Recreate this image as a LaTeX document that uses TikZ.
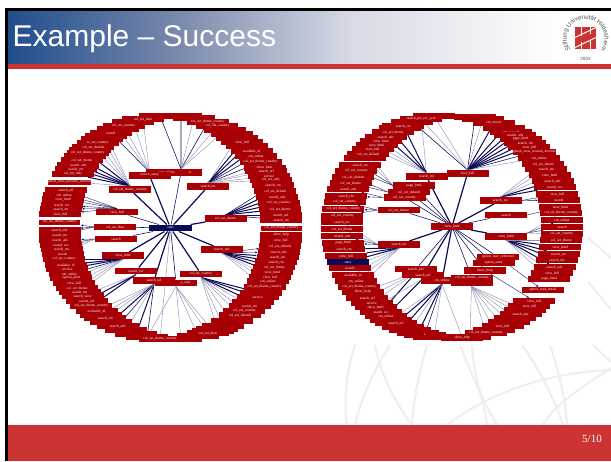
\documentclass[tikz,border=0pt]{standalone}
\usepackage{fontspec}
\setmainfont{Liberation Serif}
\newfontfamily\hdrfont{Liberation Sans}
\usetikzlibrary{backgrounds,arrows.meta,decorations.text}
\definecolor{ringred}{HTML}{A80004}
\definecolor{navy}{HTML}{0A0A55}
\definecolor{barred}{HTML}{CC3333}
\definecolor{wmark}{HTML}{EEEEEE}
\definecolor{thinline}{HTML}{8A8CB0}
\catcode`\_=12
\tikzset{
  ringbox/.style={fill=ringred,text=white,inner sep=0pt,minimum width=42pt,minimum height=6pt,
    font=\fontsize{3.6}{4}\selectfont},
  rowline/.style={draw=white,line width=.5pt},
  hubbox/.style={ringbox,minimum height=6.6pt},
  rootbox/.style={hubbox,fill=navy},
  boldsp/.style={draw=navy,line width=1pt},
  midsp/.style={draw=navy,line width=.55pt},
  thinsp/.style={draw=thinline,line width=.4pt},
  tipsp/.style={draw=navy,line width=.35pt,-{Stealth[length=2.4pt,width=2pt]}},
  trunk/.style={draw=navy,line width=1.2pt},
  wline/.style={draw=wmark,line width=2pt},
}
% optional style, name, sign, cx, cy, a, b, rows
\newcommand\Ring[8][]{\foreach \y/\t in {#8}{%
  \node[ringbox,#1] (#2\y) at ({#4 #3 #6*sqrt(1-((\y-#5)/#7)^2)},\y) {\t};}}
\newcommand\LL[2][]{\Ring[#1]{ll}{-}{170.5}{227.5}{111}{112}{#2}}
\newcommand\LR[2][]{\Ring[#1]{lr}{+}{170.5}{227.5}{111}{112}{#2}}
\newcommand\RL[2][]{\Ring[#1]{rl}{-}{452}{226.5}{110}{112}{#2}}
\newcommand\RR[2][]{\Ring[#1]{rr}{+}{452}{226.5}{110}{112}{#2}}
% style, source, row prefix, rows
\newcommand\Fan[4]{\foreach \y in {#4}{\draw[#1] (#2) -- (#3\y);}}
\begin{document}
\begin{tikzpicture}[x=1pt,y=-1pt]
\useasboundingbox (0,0) rectangle (611,461);

% ---------- left ring
\LL{116/,122/,129/,136/,139/,150/,156/,315/,322/,330/,334/,337/}
\LR{116/,118/,130/,134/,138/,146/,293/,302/,321/,326/,329/,331/,336/,339/}
\LL{119/col_set_then,126/col_set_country,133/search,143/cs_set_country,147/col_set_default,153/col_set_theme_country,160/col_set_theme,165/search_adv,169/search_rtn,174/col_set_only,
190/search_url,195/cm_online,199/view_html,205/search_rec,209/search_rtn,214/view_full,
230/search_adv,235/search_rtn,240/search_adv,245/search_rec,249/search_rtn,254/search,259/col_set_country,265/available_nl,269/service,274/cm_online,278/option_print,283/view_full,288/col_set_theme,292/search_rtn,296/search_view,301/search_url,306/col_set_theme_country,311/available_nl,318/search_rtn,326/search_adv,339/col_set_theme_country}
\LR{122/col_set_theme_country,126/col_file_country,142/view_full,151/available_nl,156/cm_online,162/col_set_theme_country,168/show_help,171/search_url,176/service,180/col_set_only,185/search_rtn,191/col_set_default,197/search_adv,203/col_set_country,209/col_set_theme,215/search_url,220/search_rtn,
235/show_help,240/view_full,246/col_set_default,252/search_adv,257/search_rtn,262/search_rtn,267/col_set_theme,272/view_html,277/view_full,281/cm_online,287/col_set_theme_country,297/service,306/search_rtn,311/col_set_country,315/col_set_default,333/col_set_then}
\LL[rowline]{182/option_view_preview_favorite,222/col_set_theme_country}
\LR[rowline]{228/col_set_theme_country}

% ---------- left tree hubs
\node[hubbox] (hTC) at (130,189.5) {col_set_theme_country};
\node[hubbox] (hVf) at (117,212) {view_full};
\node[hubbox] (hN) at (181,172.5) {\hspace*{18pt}n};
\node[hubbox] (hOn) at (167,172.5) {cm_online};
\node[hubbox] (hSa) at (149.5,175.5) {source_away};
\node[hubbox] (hRt) at (208,186.5) {search_rtn};
\node[hubbox] (hTh) at (225.5,218.5) {col_set_theme};
\node[hubbox] (hTn) at (115,227) {col_set_then};
\node[hubbox] (hSe) at (116,239) {search};
\node[hubbox] (hVh) at (123,255.5) {view_html};
\node[hubbox] (hRc) at (136,271) {search_rec};
\node[hubbox] (hAd) at (222,249.5) {search_adv};
\node[hubbox] (hCo) at (201,274) {col_set_country};
\node[hubbox] (hOnly) at (176,283) {\hspace*{18pt}_s_only};
\node[hubbox] (hUr) at (154,280.5) {search_url};
\node[rootbox,minimum width=43pt] (lroot) at (170.5,228) {start};

% ---------- right ring
\RL{116/,122/,128/,158/,320/,327/,330/,333/,337/}
\RR{117/,119/,128/,310/,318/,322/,330/,337/}
\RL{119/search_pst_rec_year,126/search_rec,132/col_set_theme,137/search_adv,141/view_html,145/view_html,149/view_full,154/col_set_default,
165/search_rtn,171/col_set_country,177/col_set_default,183/col_set_theme,189/search_adv,196/search_rtn,202/col_set_country,209/col_set_theme_country,216/col_set_country,222/search_rec,229/col_set_theme,236/search_adv,243/page_html,249/search_rtn,256/view_full,
268/search,275/available_nl,281/cm_online,287/col_set_theme_country,292/show_help,298/search_url,303/service,307/show_html,312/search_rec,316/cm_online,323/search_url,335/s}
\RR{123/cm_mover,132/cm_n_n_rtl,135/search_adv,139/page_html,143/search_rtn,147/view_full,152/option_view_session_favorite,158/cm_online,164/col_set_theme,169/search_rtn,175/view_html,181/search_adv,187/search_rec,194/view_full,200/search,207/view_html,213/col_set_theme_country,220/cm_online,227/search,234/col_set_country,240/col_set_theme,247/view_html,254/search_rec,260/search_rtn,267/search_adv,273/view_full,279/page_html,
290/option_read_email,301/view_full,306/view_full,314/search_adv,326/view_full,333/col_set_theme_country,338/show_help}
\RL[rootbox,minimum height=6pt,minimum width=42pt]{262/start}

% ---------- right tree hubs
\node[hubbox] (rRt) at (426.5,176.5) {search_rtn};
\node[hubbox] (rVf) at (467.5,173.5) {view_full};
\node[hubbox] (rPg) at (414,185.5) {page_html};
\node[hubbox] (rDf) at (409,192) {col_set_default};
\node[hubbox] (rCo) at (404.5,197.5) {col_set_country};
\node[hubbox] (rTh) at (398.5,210) {col_set_theme};
\node[hubbox] (rRc) at (500.5,200.5) {search_rec};
\node[hubbox] (rSe) at (506,215) {search};
\node[hubbox] (rVh) at (506,236.5) {view_html};
\node[hubbox] (rRl) at (399,244.5) {search_rtn};
\node[hubbox] (rAd) at (416,269) {search_adv};
\node[hubbox] (rUr) at (423,275) {search_url};
\node[hubbox] (rOn) at (442,280.5) {cm_online};
\node[hubbox] (rFa) at (471.5,283) {};
\node[hubbox] (rOu) at (498,257) {option_user_reference};
\node[hubbox] (rOs) at (493.5,263) {option_send};
\node[hubbox] (rSh) at (485,270.5) {show_help};
\node[hubbox] (rTC) at (472,278) {col_set_theme_country};
\node[hubbox] (rroot) at (452,226.5) {view_html};

% ---------- everything behind the boxes
\begin{scope}[on background layer]
  % watermark, behind the white panel of the figure
  \draw[wline] (355,345) .. controls (345,375) and (344,405) .. (347,425);
  \draw[wline] (375,345) .. controls (379,370) and (395,403) .. (412,425);
  \draw[wline] (390,345) .. controls (377,365) and (362,395) .. (355,425);
  \draw[wline] (427,345) .. controls (420,370) and (414,395) .. (412,425);
  \draw[wline] (460,345) .. controls (470,370) and (482,400) .. (497,425);
  \draw[wline] (472,345) .. controls (473,375) and (484,400) .. (487,425);
  \draw[wline] (447,425) .. controls (490,392) and (550,372) .. (611,370);
  \draw[wline] (522,345) .. controls (537,365) and (555,400) .. (563,425);
  \draw[wline] (550,345) .. controls (558,370) and (566,400) .. (567,425);
  \draw[wline] (593,345) -- (611,362);
  \draw[wline] (611,368) .. controls (585,385) and (553,405) .. (543,425);
  \draw[wline] (575,225) .. controls (590,240) and (600,248) .. (611,258);
  \draw[wline] (578,270) .. controls (590,285) and (600,295) .. (611,310);
  \fill[white] (8,69) rectangle (588,345);

  % left tree: trunk lines
  \foreach \h in {hTC,hSa,hRt,hTh,hVh,hRc,hAd,hCo,hUr}{\draw[trunk] (lroot) -- (\h);}
  \foreach \h in {hVf,hN,hTn,hSe,hOnly}{\draw[midsp] (lroot) -- (\h);}
  \draw[thinsp] (lroot) -- (ll339);
  % left tree: fans
  \Fan{boldsp}{hTC.north}{ll}{174,169,165,160,153}
  \Fan{thinsp}{hTC.north}{ll}{182,147,143,139,136}
  \Fan{midsp}{hSa.north}{ll}{133}
  \Fan{thinsp}{hSa.north}{ll}{129,126,122,119}
  \Fan{midsp}{hN.north}{lr}{116,122}
  \Fan{midsp}{hN.north}{ll}{116}
  \Fan{thinsp}{hN.north}{lr}{118,126,130}
  \Fan{boldsp}{hRt.north}{lr}{142,146,151}
  \Fan{midsp}{hRt.north}{lr}{156,162}
  \Fan{thinsp}{hRt.north}{lr}{138,168,171,176,180}
  \Fan{boldsp}{hTh.north}{lr}{191,197,203,209,215}
  \Fan{midsp}{hTh.north}{lr}{185,220}
  \Fan{tipsp}{hTn.west}{ll}{222,230,235}
  \Fan{tipsp}{hSe.west}{ll}{240,245}
  \Fan{thinsp}{hSe.west}{ll}{249,254}
  \Fan{tipsp}{hVf.north}{ll}{190,195,199,205,209,214}
  \Fan{boldsp}{hVh.south}{ll}{265,269}
  \Fan{midsp}{hVh.south}{ll}{259,274}
  \Fan{thinsp}{hVh.south}{ll}{278,283,288,292}
  \Fan{boldsp}{hRc.south}{ll}{301,306}
  \Fan{thinsp}{hRc.south}{ll}{296}
  \Fan{boldsp}{hUr.south}{ll}{322,334}
  \Fan{midsp}{hUr.south}{ll}{326,337}
  \Fan{thinsp}{hUr.south}{ll}{311,315,318,330}
  \Fan{tipsp}{hAd.south}{lr}{246,252}
  \Fan{boldsp}{hAd.south}{lr}{257,262,267,272}
  \Fan{thinsp}{hAd.south}{lr}{277,281,287}
  \Fan{boldsp}{hCo.south}{lr}{293,297,302}
  \Fan{thinsp}{hCo.south}{lr}{306,311,315,321,326,329}
  \Fan{thinsp}{hOnly.south}{lr}{331,333,336,339}
  \Fan{thinsp}{hOnly.south}{ll}{337}

  % right tree: trunk lines
  \foreach \h in {rRt,rVf,rRc,rVh,rRl,rOn,rUr}{\draw[trunk] (rroot) -- (\h);}
  \foreach \h in {rPg,rDf,rCo,rTh,rSe,rAd,rOu,rOs,rSh,rTC}{\draw[midsp] (rroot) -- (\h);}
  % right tree: fans
  \Fan{boldsp}{rRt.north}{rl}{126,132,137}
  \Fan{thinsp}{rRt.north}{rl}{119,141,145,149}
  \Fan{boldsp}{rVf.north}{rr}{123,128,132,135,139,143,147}
  \Fan{midsp}{rVf.north}{rr}{117,152}
  \Fan{thinsp}{rVf.north}{rr}{119,158}
  \Fan{midsp}{rVf.north}{rl}{122}
  \Fan{thinsp}{rVf.north}{rl}{116,119}
  \Fan{thinsp}{rPg.west}{rl}{154,158}
  \Fan{tipsp}{rPg.west}{rl}{165,171}
  \Fan{tipsp}{rDf.west}{rl}{177,183}
  \Fan{tipsp}{rCo.west}{rl}{189,196}
  \Fan{tipsp}{rTh.west}{rl}{202,209,216}
  \Fan{thinsp}{rRl.west}{rl}{222,229}
  \Fan{tipsp}{rRl.west}{rl}{236,243}
  \Fan{boldsp}{rRl.south}{rl}{249,256,262}
  \Fan{thinsp}{rRl.south}{rl}{268,275,281,287}
  \Fan{boldsp}{rAd.south}{rl}{312}
  \Fan{thinsp}{rAd.south}{rl}{292,298,303}
  \Fan{boldsp}{rUr.south}{rl}{316}
  \Fan{thinsp}{rUr.south}{rl}{307}
  \Fan{boldsp}{rOn.south}{rl}{323,327,333}
  \Fan{midsp}{rOn.south}{rl}{335}
  \Fan{thinsp}{rOn.south}{rl}{320,330,337}
  \Fan{thinsp}{rOn.south}{rr}{338}
  \Fan{thinsp}{rFa.south}{rr}{310,314,318,322,326,330,333,337}
  \Fan{tipsp}{rSh}{rr}{301}
  \Fan{tipsp}{rOu}{rr}{290}
  \Fan{boldsp}{rRc.north}{rr}{181,187}
  \Fan{thinsp}{rRc.north}{rr}{164,169,175}
  \Fan{tipsp}{rRc.east}{rr}{194,200}
  \Fan{tipsp}{rSe.east}{rr}{207}
  \Fan{tipsp}{rVh.north east}{rr}{220,227}
  \Fan{thinsp}{rVh.north east}{rr}{213,234}
  \Fan{boldsp}{rVh.south}{rr}{247,254,260,267}
  \Fan{thinsp}{rVh.south}{rr}{240,273,279}

  % slide frame: header and footer
  \shade[left color={rgb,255:red,31;green,78;blue,140},right color={rgb,255:red,118;green,134;blue,170}] (7,11) rectangle (170.3,64);
  \shade[left color={rgb,255:red,118;green,134;blue,170},right color={rgb,255:red,214;green,218;blue,228}] (170,11) rectangle (350.3,64);
  \shade[left color={rgb,255:red,214;green,218;blue,228},right color=white] (350,11) rectangle (560,64);
  \fill[barred] (7,64) rectangle (611,69);
  \fill[barred] (7,425) rectangle (611,461);
  \fill[black] (5,8) rectangle (611,10.8);
  \fill[black] (5,8) rectangle (7.6,461);
\end{scope}

% ---------- header texts
\node[anchor=base west,inner sep=0pt,text=white,font=\hdrfont\fontsize{30}{30}\selectfont] (title) at (12.5,46.7) {Example – Success};
\node[anchor=base,inner sep=0pt,text=white,font=\fontsize{11}{12}\selectfont] (pageno) at (592,442) {5/10};

% ---------- logo
\fill[barred] (575,27) rectangle (596,49);
\fill[white] (580.5,27) rectangle (582,36);
\fill[white] (589.5,27) rectangle (591,34);
\fill[white] (580.5,42) rectangle (582,49);
\fill[white] (589.5,40) rectangle (591,49);
\draw[white,line width=1pt] (574,38) -- (597,27);
\draw[white,line width=1pt] (574,48) -- (597,37);
\path[decorate,decoration={text along path,text align=center,
  text={|\hdrfont\fontsize{6.2}{6}\selectfont\color{black!70}|Stiftung Universität Hildesheim}}]
  (574.1,53.2) arc[start angle=127,end angle=413,radius=19];
\node[inner sep=0pt,text=black!70,font=\hdrfont\fontsize{4.6}{5}\selectfont] (logoyear) at (585.5,59) {2003};
\end{tikzpicture}
\end{document}
